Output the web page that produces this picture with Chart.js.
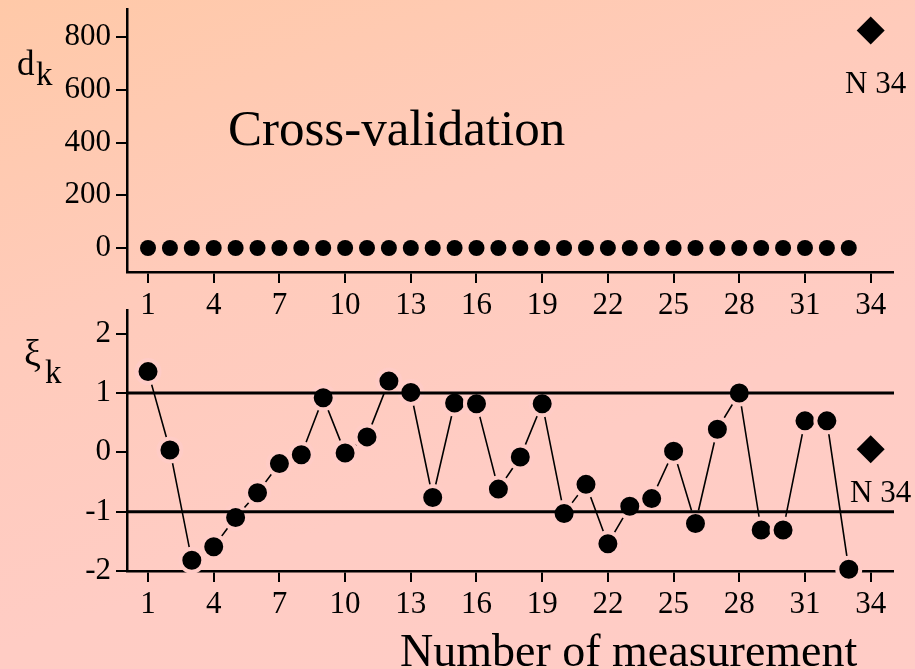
<!DOCTYPE html>
<html>
<head>
<meta charset="utf-8">
<script src="https://cdn.jsdelivr.net/npm/chart.js@4.4.1/dist/chart.umd.min.js"></script>
<style>
    html, body { margin: 0; padding: 0; }
    body {
        width: 915px; height: 669px; overflow: hidden; position: relative;
        background: linear-gradient(160deg, #ffc9a8 0%, #ffcbbb 35%, #ffccc4 65%, #ffccc6 100%);
    }
    canvas { position: absolute; left: 0; }
    /* Chart.js оставляет ~15px сверху — сдвигаем холсты, чтобы оси встали на место */
    #topChart { top: -5px; }
    #bottomChart { top: 295px; }
</style>
</head>
<body>
<canvas id="topChart" width="915" height="330"></canvas>
<canvas id="bottomChart" width="915" height="374"></canvas>
<script>
// Номера измерений (ось X)
const measurementNumbers = [1, 2, 3, 4, 5, 6, 7, 8, 9, 10, 11, 12, 13, 14, 15, 16, 17,
    18, 19, 20, 21, 22, 23, 24, 25, 26, 27, 28, 29, 30, 31, 32, 33];

// Верхняя панель: d_k
const dkValues = [0, 0, 0, 0, 0, 0, 0, 0, 0, 0, 0, 0, 0, 0, 0, 0, 0,
    0, 0, 0, 0, 0, 0, 0, 0, 0, 0, 0, 0, 0, 0, 0, 0];
const dkOutlierX = 34;
const dkOutlierY = 825;

// Нижняя панель: xi_k
const xiValues = [1.36, 0.04, -1.82, -1.59, -1.10, -0.68, -0.19, -0.04, 0.92, -0.01,
    0.26, 1.20, 1.01, -0.76, 0.83, 0.82, -0.62, -0.08, 0.82, -1.03, -0.54, -1.54,
    -0.91, -0.78, 0.02, -1.20, 0.39, 1.00, -1.31, -1.31, 0.53, 0.53, -1.97];
const xiOutlierX = 34;
const xiOutlierY = 0.05;
const xiLimits = [1, -1];

// Метки осей
const xTickValues = [1, 4, 7, 10, 13, 16, 19, 22, 25, 28, 31, 34];
const dkTickValues = [0, 200, 400, 600, 800];
const xiTickValues = [-2, -1, 0, 1, 2];

const SERIF = '"Liberation Serif", "Times New Roman", serif';
const BG_PINK = 'rgb(255, 204, 198)';
const TOP_OFFSET = -5;     // положение верхнего холста на странице
const BOTTOM_OFFSET = 295; // положение нижнего холста на странице

// Подписи на холсте (без обрезки по области графика)
const textPlugin = {
    id: 'textPlugin',
    afterDraw(chart, args, opts) {
        const ctx = chart.ctx;
        ctx.save();
        ctx.fillStyle = '#000';
        ctx.textBaseline = 'alphabetic';
        ctx.textAlign = 'left';
        (opts.items || []).forEach(item => {
            ctx.font = item.size + 'px ' + SERIF;
            ctx.fillText(item.text, item.x, item.y - opts.offset);
        });
        ctx.restore();
    }
};

// Горизонтальные линии +1 / -1
const limitLinesPlugin = {
    id: 'limitLines',
    afterDatasetsDraw(chart, args, opts) {
        if (!opts.values) return;
        const { ctx, chartArea, scales } = chart;
        ctx.save();
        ctx.strokeStyle = '#000';
        ctx.lineWidth = 3;
        opts.values.forEach(v => {
            const y = scales.y.getPixelForValue(v);
            ctx.beginPath();
            ctx.moveTo(chartArea.left, y);
            ctx.lineTo(chartArea.right + 1, y);
            ctx.stroke();
        });
        ctx.restore();
    }
};

function xScale(height) {
    return {
        type: 'linear',
        min: 0.04,
        max: 35.02,
        afterBuildTicks: s => { s.ticks = xTickValues.map(v => ({ value: v })); },
        afterFit: s => { s.height = height; s.paddingLeft = 0; s.paddingRight = 0; },
        grid: { display: true, drawOnChartArea: false, drawTicks: true, tickLength: 11, color: '#000', lineWidth: 2 },
        border: { display: true, color: '#000', width: 2.5 },
        ticks: { color: '#000', font: { family: SERIF, size: 31 }, padding: 4, autoSkip: false, maxRotation: 0, callback: v => String(v) }
    };
}

function yScale(min, max, tickValues) {
    return {
        min: min,
        max: max,
        afterBuildTicks: s => { s.ticks = tickValues.map(v => ({ value: v })); },
        afterFit: s => { s.width = 127; s.paddingTop = 0; s.paddingBottom = 0; },
        grid: { display: true, drawOnChartArea: false, drawTicks: true, tickLength: 11, color: '#000', lineWidth: 2 },
        border: { display: true, color: '#000', width: 2.5 },
        ticks: { color: '#000', font: { family: SERIF, size: 31 }, padding: 5, callback: v => String(v) }
    };
}

const commonOptions = {
    responsive: false,
    animation: false,
    devicePixelRatio: 1,
    events: []
};

// --- Верхний график ---
new Chart(document.getElementById('topChart'), {
    type: 'scatter',
    data: {
        datasets: [{
            data: measurementNumbers.map((n, i) => ({ x: n, y: dkValues[i] })),
            pointRadius: 8,
            pointBackgroundColor: '#000',
            pointBorderWidth: 0,
            clip: false
        }, {
            data: [{ x: dkOutlierX, y: dkOutlierY }],
            pointStyle: 'rectRot',
            pointRadius: 14,
            pointBackgroundColor: '#000',
            pointBorderWidth: 0,
            clip: false
        }]
    },
    options: {
        ...commonOptions,
        layout: { padding: { top: 10, right: 22, left: 0, bottom: 0 } },
        scales: {
            x: xScale(53),
            y: yScale(-91, 907, dkTickValues)
        },
        plugins: {
            legend: { display: false },
            tooltip: { enabled: false },
            textPlugin: {
                offset: TOP_OFFSET,
                items: [
                    { text: 'Cross-validation', x: 228, y: 145, size: 51 },
                    { text: 'd', x: 17, y: 75, size: 35 },
                    { text: 'k', x: 36, y: 85, size: 33 },
                    { text: 'N 34', x: 845, y: 93, size: 31 }
                ]
            }
        }
    },
    plugins: [textPlugin]
});

// --- Нижний график ---
new Chart(document.getElementById('bottomChart'), {
    type: 'scatter',
    data: {
        datasets: [{
            data: measurementNumbers.map((n, i) => ({ x: n, y: xiValues[i] })),
            showLine: true,
            borderColor: '#000',
            borderWidth: 1.6,
            pointRadius: 11.5,
            pointBackgroundColor: '#000',
            pointBorderColor: BG_PINK,
            pointBorderWidth: 4,
            clip: false
        }, {
            data: [{ x: xiOutlierX, y: xiOutlierY }],
            pointStyle: 'rectRot',
            pointRadius: 14,
            pointBackgroundColor: '#000',
            pointBorderWidth: 0,
            clip: false
        }]
    },
    options: {
        ...commonOptions,
        layout: { padding: { top: 5, right: 22, left: 0, bottom: 0 } },
        scales: {
            x: xScale(98),
            y: yScale(-2, 2.39, xiTickValues)
        },
        plugins: {
            legend: { display: false },
            tooltip: { enabled: false },
            limitLines: { values: xiLimits },
            textPlugin: {
                offset: BOTTOM_OFFSET,
                items: [
                    { text: 'ξ', x: 24, y: 366, size: 38 },
                    { text: 'k', x: 45, y: 383, size: 33 },
                    { text: 'N 34', x: 850, y: 502, size: 31 },
                    { text: 'Number of measurement', x: 400, y: 666, size: 46 }
                ]
            }
        }
    },
    plugins: [limitLinesPlugin, textPlugin]
});
</script>
</body>
</html>
